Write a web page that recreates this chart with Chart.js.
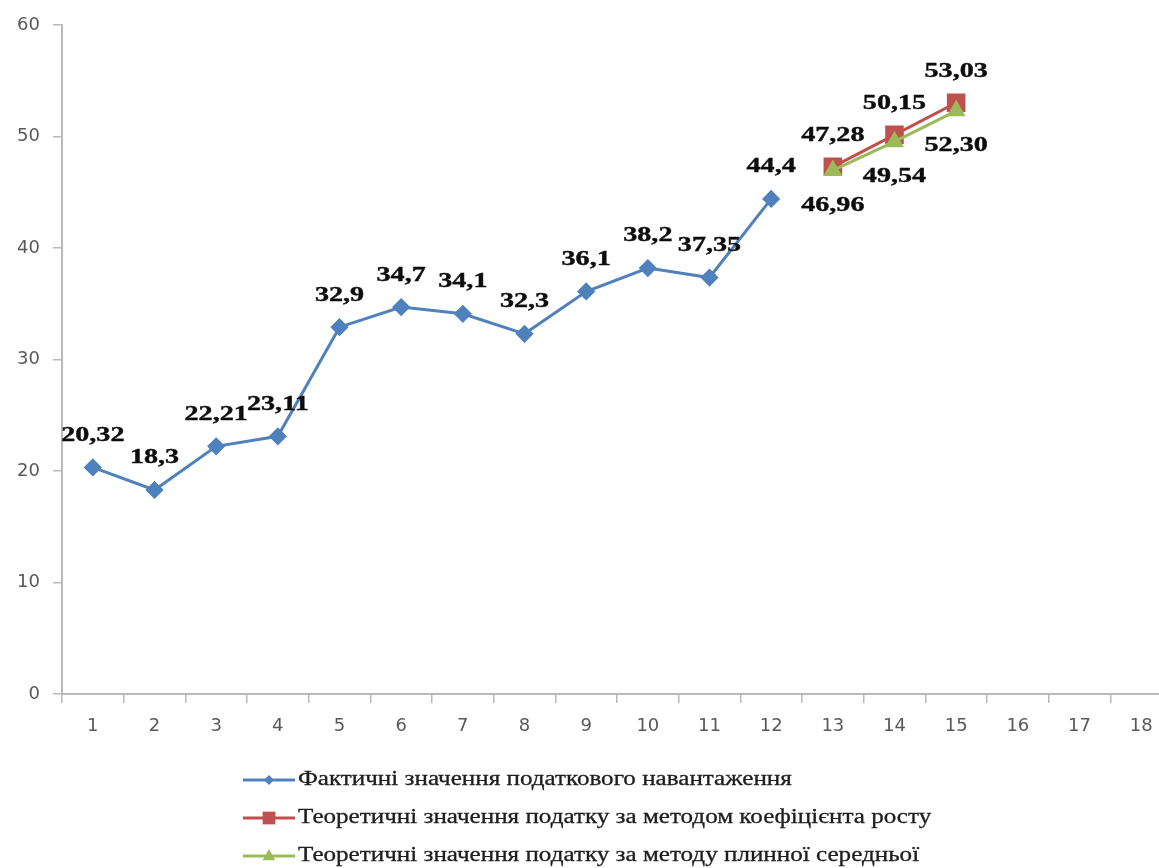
<!DOCTYPE html>
<html>
<head>
<meta charset="utf-8">
<script src="https://cdn.jsdelivr.net/npm/chart.js@4.4.1/dist/chart.umd.min.js"></script>
<style>
  html, body { margin: 0; padding: 0; background: #ffffff; overflow: hidden; }
  #wrap { width: 1159px; height: 868px; overflow: hidden; position: relative; }
  canvas { display: block; }
</style>
</head>
<body>
<div id="wrap"><canvas id="chart" width="1186" height="868"></canvas></div>
<script>
// Periods on the horizontal axis
const periods = ['1','2','3','4','5','6','7','8','9','10','11','12','13','14','15','16','17','18'];

// Actual tax burden, periods 1–12
const actualValues = [20.32, 18.3, 22.21, 23.11, 32.9, 34.7, 34.1, 32.3, 36.1, 38.2, 37.35, 44.4,
                      null, null, null, null, null, null];

// Forecast by growth-coefficient method, periods 13–15
const growthValues = [null, null, null, null, null, null, null, null, null, null, null, null,
                      47.28, 50.15, 53.03, null, null, null];

// Forecast by moving-average method, periods 13–15
const movingValues = [null, null, null, null, null, null, null, null, null, null, null, null,
                      46.96, 49.54, 52.30, null, null, null];

// Y axis tick values
const yTicks = [0, 10, 20, 30, 40, 50, 60];

const seriesNames = [
  'Фактичні значення податкового навантаження',
  'Теоретичні значення податку за методом коефіцієнта росту',
  'Теоретичні значення податку за методу плинної середньої'
];

const BLUE = '#4f81bd', RED = '#c0504d', GREEN = '#9bbb59';
const AXIS = '#b9b9b9', TICK_TEXT = '#595959';
const STRETCH = 1.34;   // horizontal widening of the serif value labels

// per-series label placement and number format
const labelStyle = [
  { dy: -32, decimals: null },
  { dy: -31, decimals: 2 },
  { dy: 35, decimals: 2 }
];

function fmt(v, decimals) {
  const s = decimals == null ? String(v) : v.toFixed(decimals);
  return s.replace('.', ',');
}

const valueLabels = {
  id: 'valueLabels',
  afterDatasetsDraw(chart) {
    const ctx = chart.ctx;
    chart.data.datasets.forEach((ds, i) => {
      const meta = chart.getDatasetMeta(i);
      const st = labelStyle[i];
      meta.data.forEach((pt, j) => {
        const v = ds.data[j];
        if (v == null) return;
        ctx.save();
        ctx.translate(pt.x, pt.y + st.dy);
        ctx.scale(STRETCH, 1);
        ctx.font = 'bold 21px "Liberation Serif", "Times New Roman", serif';
        ctx.fillStyle = '#0d0d0d';
        ctx.strokeStyle = '#0d0d0d';
        ctx.lineWidth = 0.4;
        ctx.textAlign = 'center';
        ctx.textBaseline = 'middle';
        ctx.fillText(fmt(v, st.decimals), 0, 0);
        ctx.strokeText(fmt(v, st.decimals), 0, 0);
        ctx.restore();
      });
    });
  }
};

function drawMarker(ctx, style, x, y, r) {
  if (style === 'rectRot') {
    ctx.moveTo(x - r, y); ctx.lineTo(x, y - r); ctx.lineTo(x + r, y); ctx.lineTo(x, y + r); ctx.closePath();
  } else if (style === 'rect') {
    const s = r * Math.SQRT1_2;
    ctx.rect(x - s, y - s, 2 * s, 2 * s);
  } else {
    ctx.moveTo(x, y - r); ctx.lineTo(x + r * 0.9, y + r * 0.6); ctx.lineTo(x - r * 0.9, y + r * 0.6); ctx.closePath();
  }
}

// Vertical legend under the axis
const sideLegend = {
  id: 'sideLegend',
  afterDraw(chart) {
    const ctx = chart.ctx;
    const x0 = 243, x1 = 295, tx = 298;
    const rows = [780, 818, 856];
    chart.data.datasets.forEach((ds, i) => {
      const y = rows[i];
      ctx.save();
      ctx.strokeStyle = ds.borderColor;
      ctx.lineWidth = 3;
      ctx.beginPath();
      ctx.moveTo(x0, y);
      ctx.lineTo(x1, y);
      ctx.stroke();
      ctx.fillStyle = ds.backgroundColor;
      ctx.beginPath();
      drawMarker(ctx, ds.pointStyle, (x0 + x1) / 2, y, ds.legendRadius);
      ctx.fill();
      ctx.restore();

      ctx.save();
      ctx.translate(tx, y);
      ctx.scale(1.255, 1);
      ctx.font = '20px "Liberation Serif", "Times New Roman", serif';
      ctx.fillStyle = '#1e1e1e';
      ctx.strokeStyle = '#1e1e1e';
      ctx.lineWidth = 0.3;
      ctx.textAlign = 'left';
      ctx.textBaseline = 'middle';
      ctx.fillText(seriesNames[i], 0, 0);
      ctx.strokeText(seriesNames[i], 0, 0);
      ctx.restore();
    });
  }
};

new Chart(document.getElementById('chart'), {
  type: 'line',
  data: {
    labels: periods,
    datasets: [
      {
        label: seriesNames[0],
        data: actualValues,
        borderColor: BLUE, backgroundColor: BLUE,
        borderWidth: 3, pointStyle: 'rectRot', pointRadius: 7,
        pointBorderColor: BLUE, pointBackgroundColor: BLUE,
        legendRadius: 5, order: 2
      },
      {
        label: seriesNames[1],
        data: growthValues,
        borderColor: RED, backgroundColor: RED,
        borderWidth: 3, pointStyle: 'rect', pointRadius: 11,
        pointBorderColor: RED, pointBackgroundColor: RED,
        legendRadius: 9, order: 1
      },
      {
        label: seriesNames[2],
        data: movingValues,
        borderColor: GREEN, backgroundColor: GREEN,
        borderWidth: 3, pointStyle: 'triangle', pointRadius: 8,
        pointBorderColor: GREEN, pointBackgroundColor: GREEN,
        legendRadius: 7, order: 0
      }
    ]
  },
  options: {
    responsive: false,
    devicePixelRatio: 1,
    animation: false,
    layout: { padding: { top: 25, right: 3, left: 0, bottom: 0 } },
    plugins: { legend: { display: false }, tooltip: { enabled: false } },
    elements: { line: { tension: 0 }, point: { borderWidth: 1 } },
    scales: {
      x: {
        type: 'category',
        offset: true,
        grid: { offset: true, drawOnChartArea: false, drawTicks: true, tickLength: 9, color: AXIS, lineWidth: 1.5 },
        border: { display: true, color: AXIS, width: 2 },
        ticks: {
          color: TICK_TEXT, padding: 13, maxRotation: 0, autoSkip: false,
          font: { family: '"DejaVu Sans", sans-serif', size: 18 }
        },
        afterFit(scale) { scale.height = 174; }
      },
      y: {
        min: 0, max: 60,
        afterBuildTicks(scale) { scale.ticks = yTicks.map(v => ({ value: v })); },
        grid: { drawOnChartArea: false, drawTicks: true, tickLength: 9, color: AXIS, lineWidth: 1.5 },
        border: { display: true, color: AXIS, width: 2 },
        ticks: {
          color: TICK_TEXT, padding: 13,
          font: { family: '"DejaVu Sans", sans-serif', size: 18 }
        },
        afterFit(scale) { scale.width = 62; }
      }
    }
  },
  plugins: [valueLabels, sideLegend]
});
</script>
</body>
</html>
